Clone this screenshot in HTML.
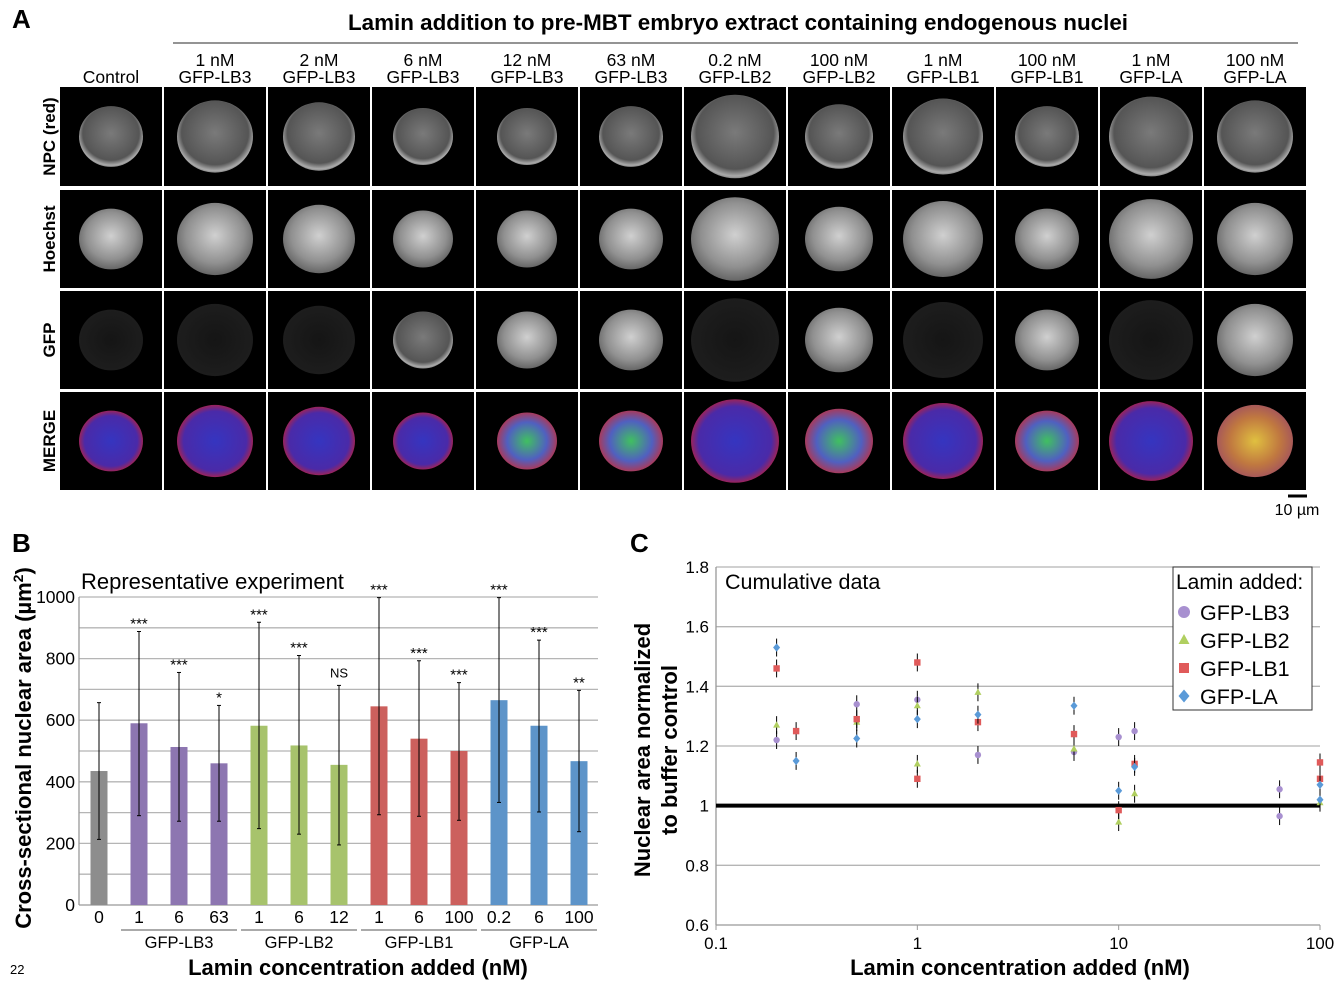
<!DOCTYPE html>
<html><head><meta charset="utf-8">
<style>
html,body{margin:0;padding:0;background:#fff;}
svg{display:block;font-family:"Liberation Sans",Arial,sans-serif;}
</style></head>
<body>
<svg id="fig" width="1336" height="982" viewBox="0 0 1336 982" xmlns="http://www.w3.org/2000/svg">
<defs>
<radialGradient id="gGray" cx="50%" cy="45%" r="55%"><stop offset="0" stop-color="#7a7a7a"/><stop offset="0.8" stop-color="#555"/><stop offset="0.95" stop-color="#aaa"/><stop offset="1" stop-color="#888"/></radialGradient>
<radialGradient id="gDim" cx="50%" cy="50%" r="55%"><stop offset="0" stop-color="#151515"/><stop offset="1" stop-color="#1e1e1e"/></radialGradient>
<radialGradient id="gBright" cx="50%" cy="45%" r="55%"><stop offset="0" stop-color="#d0d0d0"/><stop offset="0.7" stop-color="#909090"/><stop offset="1" stop-color="#666"/></radialGradient>
<radialGradient id="gMerge" cx="50%" cy="50%" r="55%"><stop offset="0" stop-color="#3535c0"/><stop offset="0.75" stop-color="#4a2aa8"/><stop offset="1" stop-color="#c82030"/></radialGradient>
<radialGradient id="gMergeG" cx="50%" cy="50%" r="55%"><stop offset="0" stop-color="#40c060"/><stop offset="0.6" stop-color="#5060c0"/><stop offset="1" stop-color="#c03040"/></radialGradient>
<radialGradient id="gMergeY" cx="50%" cy="50%" r="55%"><stop offset="0" stop-color="#e0c040"/><stop offset="0.6" stop-color="#c07840"/><stop offset="1" stop-color="#a05060"/></radialGradient>
</defs>
<text x="12" y="28" font-size="26" font-weight="bold">A</text>
<text x="738" y="30" font-size="22.4" font-weight="bold" text-anchor="middle">Lamin addition to pre-MBT embryo extract containing endogenous nuclei</text>
<line x1="173" y1="43" x2="1298" y2="43" stroke="#555" stroke-width="1.2"/>
<g id="panelA"></g>
<line x1="1288" y1="496" x2="1307" y2="496" stroke="#000" stroke-width="3"/>
<text x="1297" y="515" font-size="16" text-anchor="middle">10 µm</text>

<text x="12" y="552" font-size="26" font-weight="bold">B</text>
<g id="panelB"></g>
<text x="10" y="974" font-size="13">22</text>

<text x="630" y="552" font-size="26" font-weight="bold">C</text>
<g id="panelC"></g>
</svg>
<script>
const NS="http://www.w3.org/2000/svg";
function mk(tag,attrs,parent,txt){const e=document.createElementNS(NS,tag);for(const k in attrs)e.setAttribute(k,attrs[k]);if(txt!==undefined)e.textContent=txt;parent.appendChild(e);return e;}

// ---------- Panel A ----------
const colTop=["","1 nM","2 nM","6 nM","12 nM","63 nM","0.2 nM","100 nM","1 nM","100 nM","1 nM","100 nM"];
const colBot=["Control","GFP-LB3","GFP-LB3","GFP-LB3","GFP-LB3","GFP-LB3","GFP-LB2","GFP-LB2","GFP-LB1","GFP-LB1","GFP-LA","GFP-LA"];
const rowLabels=["NPC (red)","Hoechst","GFP","MERGE"];
const nucR=[32,38,36,30,30,32,44,34,40,32,42,38];
const gfpBright=[0,0,0,1,2,2,0,2,0,2,0,2];
const A=document.getElementById('panelA');
const rowY=[87,190,291,392], rowH=[99,98,98,98];
for(let c=0;c<12;c++){
  const x=60+c*104, cx=x+51;
  if(colTop[c]){const t=mk('text',{x:cx,y:66,'font-size':17.5,'text-anchor':'middle'},A,colTop[c]);}
  const t2=mk('text',{x:cx,y:83,'font-size':17.5,'text-anchor':'middle'},A,colBot[c]);
  
  for(let r=0;r<4;r++){
    const y=rowY[r];
    const tile=mk('rect',{x:x,y:y,width:102,height:rowH[r],fill:'#000'},A);
    
    let fill='url(#gGray)';
    if(r===1) fill='url(#gBright)';
    if(r===2) fill=gfpBright[c]===0?'url(#gDim)':(gfpBright[c]===1?'url(#gGray)':'url(#gBright)');
    if(r===3) fill=(c===10||c===11)?(c===11?'url(#gMergeY)':'url(#gMerge)'):(gfpBright[c]===2?'url(#gMergeG)':'url(#gMerge)');
    if(r===3&&c===9) fill='url(#gMergeG)';
    const n=mk('ellipse',{cx:cx,cy:y+rowH[r]/2,rx:nucR[c],ry:nucR[c]*0.95,fill:fill},A);
    
  }
}
for(let r=0;r<4;r++){
  const cy=rowY[r]+rowH[r]/2;
  const t=mk('text',{x:0,y:0,'font-size':17,'font-weight':'bold','text-anchor':'middle',transform:`translate(55,${cy}) rotate(-90)`},A,rowLabels[r]);
  
}

// ---------- Panel B ----------
const bCats=["0","1","6","63","1","6","12","1","6","100","0.2","6","100"];
const bVals=[435,590,513,460,582,518,455,645,540,500,665,582,467];
const bLow=[213,290,272,272,248,230,195,293,288,275,333,302,238];
const bHigh=[657,888,755,648,918,810,713,998,793,722,998,860,697];
const bSig=["","***","***","*","***","***","NS","***","***","***","***","***","**"];
const bGroupIdx=[0,1,1,1,2,2,2,3,3,3,4,4,4];
const bGroups=["GFP-LB3","GFP-LB2","GFP-LB1","GFP-LA"];
const bColors=["#8d8d8d","#8d76b1","#a7c36c","#cc605d","#5d94c9"];
const bTicks=[0,200,400,600,800,1000];
const B=document.getElementById('panelB');
const bx0=79,bx1=598,by0=905,by1=597;
const yB=v=>by0-(v/1000)*(by0-by1);
const xB=i=>bx0+20+i*40;
for(let v=100;v<=1000;v+=100){const l=mk('line',{x1:bx0,x2:bx1,y1:yB(v),y2:yB(v),stroke:'#b5b5b5','stroke-width':1.3},B);}
{const l=mk('line',{x1:bx0,x2:bx1,y1:by0,y2:by0,stroke:'#999','stroke-width':1.3},B);
 const l2=mk('line',{x1:bx0,x2:bx0,y1:by1,y2:by0,stroke:'#999','stroke-width':1.3},B);}
bTicks.forEach(v=>{const t=mk('text',{x:bx0-4,y:yB(v)+6,'font-size':17.5,'text-anchor':'end'},B,v);});
bVals.forEach((v,i)=>{
  const cx=xB(i);
  const r=mk('rect',{x:cx-8.5,y:yB(v),width:17,height:by0-yB(v),fill:bColors[bGroupIdx[i]]},B);
  
  const e=mk('line',{x1:cx,x2:cx,y1:yB(bHigh[i]),y2:yB(bLow[i]),stroke:'#000','stroke-width':1},B);
  
  const c1=mk('line',{x1:cx-2,x2:cx+2,y1:yB(bHigh[i]),y2:yB(bHigh[i]),stroke:'#000'},B);
  const c2=mk('line',{x1:cx-2,x2:cx+2,y1:yB(bLow[i]),y2:yB(bLow[i]),stroke:'#000'},B);
  if(bSig[i]){const s=mk('text',{x:cx,y:yB(bHigh[i])-(bSig[i]==='NS'?8:3),'font-size':bSig[i]==='NS'?13:15,'text-anchor':'middle'},B,bSig[i]);}
  const t=mk('text',{x:cx,y:923,'font-size':17.5,'text-anchor':'middle'},B,bCats[i]);
});
bGroups.forEach((g,k)=>{
  const i0=1+k*3, i1=i0+2;
  const l=mk('line',{x1:xB(i0)-20+2,x2:xB(i1)+20-2,y1:930,y2:930,stroke:'#555','stroke-width':1},B);
  const t=mk('text',{x:(xB(i0)+xB(i1))/2,y:948,'font-size':16.5,'text-anchor':'middle'},B,g);
});
{const t=mk('text',{x:81,y:589,'font-size':22},B,"Representative experiment");
 const t2=mk('text',{x:358,y:975,'font-size':22,'font-weight':'bold','text-anchor':'middle'},B,"Lamin concentration added (nM)");
 const t3=mk('text',{x:0,y:0,'font-size':22,'font-weight':'bold','text-anchor':'middle',transform:'translate(31,748) rotate(-90)'},B);
 
 t3.appendChild(document.createTextNode("Cross-sectional nuclear area (µm"));
 mk('tspan',{'font-size':14,dy:-8},t3,"2");
 mk('tspan',{dy:8},t3,")");}

// ---------- Panel C ----------
const cTicksY=[0.6,0.8,1,1.2,1.4,1.6,1.8];
const cTicksX=[0.1,1,10,100];
const lb3X=[0.2,0.5,1,2,6,10,12,63,63];
const lb3Y=[1.22,1.34,1.355,1.17,1.18,1.23,1.25,1.055,0.965];
const lb2X=[0.2,0.5,1,1,2,6,10,12,100];
const lb2Y=[1.27,1.28,1.335,1.14,1.38,1.19,0.945,1.04,1.01];
const lb1X=[0.2,0.25,0.5,1,1,2,6,10,12,100,100];
const lb1Y=[1.46,1.25,1.29,1.48,1.09,1.28,1.24,0.985,1.14,1.145,1.09];
const laX=[0.2,0.25,0.5,1,2,6,10,12,100,100];
const laY=[1.53,1.15,1.225,1.29,1.305,1.335,1.05,1.13,1.07,1.02];
const C=document.getElementById('panelC');
const cx0=716,cx1=1320,cy0=925,cy1=567;
const xC=v=>cx0+(Math.log10(v)+1)/3*(cx1-cx0);
const yC=v=>cy0-(v-0.6)/1.2*(cy0-cy1);
cTicksY.forEach(v=>{
  if(v!==1&&v!==0.6){const l=mk('line',{x1:cx0,x2:cx1,y1:yC(v),y2:yC(v),stroke:'#b5b5b5','stroke-width':1.3},C);}
  const t=mk('text',{x:cx0-7,y:yC(v)+6,'font-size':17,'text-anchor':'end'},C,v===1?"1":v.toFixed(1));
});
{const l=mk('line',{x1:cx0,x2:cx0,y1:cy1,y2:cy0,stroke:'#999','stroke-width':1.3},C);
 const l2=mk('line',{x1:cx0,x2:cx1,y1:cy0,y2:cy0,stroke:'#999','stroke-width':1.3},C);
 const l3=mk('line',{x1:cx0,x2:cx1,y1:yC(1),y2:yC(1),stroke:'#000','stroke-width':4},C);}
cTicksX.forEach(v=>{
  const t=mk('text',{x:xC(v),y:949,'font-size':17,'text-anchor':'middle'},C,String(v));
  const k=mk('line',{x1:xC(v),x2:xC(v),y1:cy0,y2:cy0+5,stroke:'#999'},C);
});
function marker(shape,color,x,y,s,name){
  let m;
  if(shape==='circle') m=mk('circle',{cx:x,cy:y,r:s,fill:color},C);
  else if(shape==='tri') m=mk('polygon',{points:`${x},${y-s*1.2} ${x-s*1.1},${y+s*0.8} ${x+s*1.1},${y+s*0.8}`,fill:color},C);
  else if(shape==='sq') m=mk('rect',{x:x-s,y:y-s,width:2*s,height:2*s,fill:color},C);
  else m=mk('polygon',{points:`${x},${y-s*1.3} ${x+s*1.1},${y} ${x},${y+s*1.3} ${x-s*1.1},${y}`,fill:color},C);
  
  return m;
}
const series=[[lb3X,lb3Y,'circle','#a890d0','point-gfp-lb3'],[lb2X,lb2Y,'tri','#b0cf60','point-gfp-lb2'],[lb1X,lb1Y,'sq','#e05a5a','point-gfp-lb1'],[laX,laY,'dia','#5a9ad8','point-gfp-la']];
series.forEach(([xs,ys,sh,col,nm])=>{
  xs.forEach((xv,i)=>{
    const px=xC(xv),py=yC(ys[i]);
    const e=mk('line',{x1:px,x2:px,y1:yC(ys[i]+0.03),y2:yC(ys[i]-0.03),stroke:'#000','stroke-width':1},C);
    
    marker(sh,col,px,py,3.2,nm);
  });
});
{const t=mk('text',{x:725,y:589,'font-size':21.5},C,"Cumulative data");
 const t2=mk('text',{x:1020,y:975,'font-size':22,'font-weight':'bold','text-anchor':'middle'},C,"Lamin concentration added (nM)");
 const t3=mk('text',{x:0,y:0,'font-size':22,'font-weight':'bold','text-anchor':'middle',transform:'translate(650,750) rotate(-90)'},C,"Nuclear area normalized");
 const t4=mk('text',{x:0,y:0,'font-size':22,'font-weight':'bold','text-anchor':'middle',transform:'translate(677,750) rotate(-90)'},C,"to buffer control");}
// legend
{const g=mk('g',{},C);
 const r=mk('rect',{x:1173,y:567,width:139,height:143,fill:'#fff',stroke:'#333','stroke-width':1},g);
 const t=mk('text',{x:1176,y:589,'font-size':21},g,"Lamin added:");
 const names=["GFP-LB3","GFP-LB2","GFP-LB1","GFP-LA"];
 names.forEach((n,i)=>{const y=612+i*28;
   marker(series[i][2],series[i][3],1184,y,i===0?6:5,'legend-marker');
   const tt=mk('text',{x:1200,y:y+8,'font-size':21.5},g,n);});
}
</script>
</body></html>
